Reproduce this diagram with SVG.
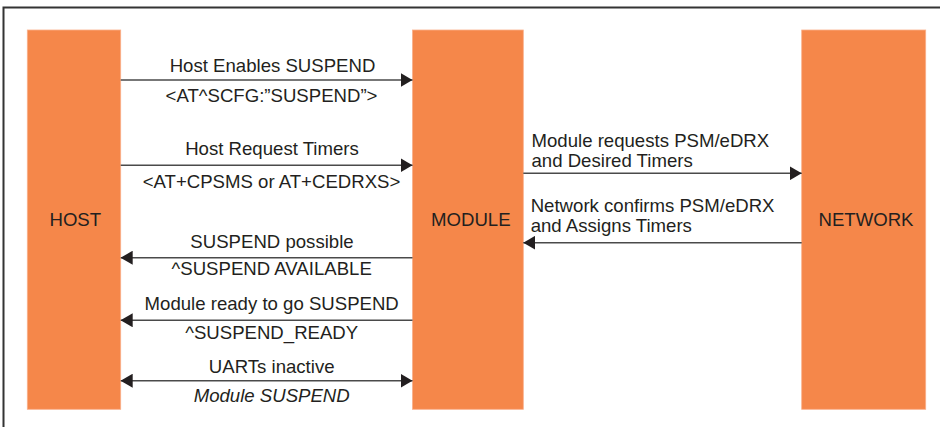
<svg xmlns="http://www.w3.org/2000/svg" width="940" height="427" viewBox="0 0 940 427">
<style>
.bar{fill:#F5874A;stroke:#F9B08A;stroke-width:0.8}
.t{font-family:"Liberation Sans",Arial,sans-serif;font-size:18.6px;fill:#231F20}
.c{text-anchor:middle}
.ln{stroke:#4a4a4a;stroke-width:1.6;fill:none}
</style>
<defs>
<marker id="ah" viewBox="0 0 12 14" refX="12" refY="7" markerWidth="12" markerHeight="14" markerUnits="userSpaceOnUse" orient="auto-start-reverse">
<path d="M0,0 L12,7 L0,14 Z" fill="#231F20"/>
</marker>
</defs>
<rect x="3.5" y="7.5" width="945" height="430" fill="#fff" stroke="#333" stroke-width="2"/>
<g id="host"><rect class="bar" x="27.3" y="30" width="93.4" height="379.3"/><text class="t c" x="75.3" y="225.7">HOST</text></g>
<g id="module"><rect class="bar" x="412.5" y="30" width="110.8" height="379.3"/><text class="t c" x="470.8" y="225.7">MODULE</text></g>
<g id="network"><rect class="bar" x="801.7" y="30" width="124" height="379.3"/><text class="t c" x="866" y="225.7">NETWORK</text></g>
<g id="connectors">
<line class="ln" x1="120.7" y1="80" x2="412.5" y2="80" marker-end="url(#ah)"/>
<line class="ln" x1="120.7" y1="165.3" x2="412.5" y2="165.3" marker-end="url(#ah)"/>
<line class="ln" x1="523.3" y1="173.3" x2="801.7" y2="173.3" marker-end="url(#ah)"/>
<line class="ln" x1="801.7" y1="242.7" x2="523.3" y2="242.7" marker-end="url(#ah)"/>
<line class="ln" x1="412.5" y1="257.7" x2="120.7" y2="257.7" marker-end="url(#ah)"/>
<line class="ln" x1="412.5" y1="320.3" x2="120.7" y2="320.3" marker-end="url(#ah)"/>
<line class="ln" x1="120.7" y1="380.7" x2="412.5" y2="380.7" marker-start="url(#ah)" marker-end="url(#ah)"/>
</g>
<g id="labels">
<text class="t c" x="272.5" y="72">Host Enables SUSPEND</text>
<text class="t c" x="271.5" y="102">&lt;AT^SCFG:”SUSPEND”&gt;</text>
<text class="t c" x="272" y="155">Host Request Timers</text>
<text class="t c" x="271.5" y="188.3">&lt;AT+CPSMS or AT+CEDRXS&gt;</text>
<text class="t" x="531.5" y="147.3">Module requests PSM/eDRX</text>
<text class="t" x="531.5" y="167.3">and Desired Timers</text>
<text class="t" x="530.7" y="211.7">Network confirms PSM/eDRX</text>
<text class="t" x="530.7" y="231.7">and Assigns Timers</text>
<text class="t c" x="272" y="247.7">SUSPEND possible</text>
<text class="t c" x="271.7" y="275">^SUSPEND AVAILABLE</text>
<text class="t c" x="271.7" y="310">Module ready to go SUSPEND</text>
<text class="t c" x="271.7" y="339.3">^SUSPEND_READY</text>
<text class="t c" x="271.7" y="373.3">UARTs inactive</text>
<text class="t c" x="271.7" y="401.7" font-style="italic">Module SUSPEND</text>
</g>
</svg>
